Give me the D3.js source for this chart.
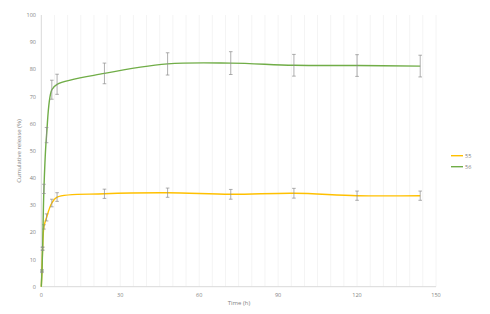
<!DOCTYPE html>
<html>
<head>
<meta charset="utf-8">
<script src="https://cdn.jsdelivr.net/npm/d3@7"></script>
<style>
  body { margin: 0; background: #fff; }
  text { font-family: "Open Sans", "Noto Sans", sans-serif; fill: #7f7f7f; }
</style>
</head>
<body>
<svg id="chart" width="490" height="314"></svg>
<script>
// sampling times (h)
var times = [0, 0.25, 0.5, 1, 2, 4, 6, 24, 48, 72, 96, 120, 144];
var seriesNames = ["55", "56"];
var release55 = [0, 6, 14, 22, 25.5, 30.8, 33, 34.2, 34.6, 34.0, 34.4, 33.5, 33.5];
var err55 = [0, 0.3, 0.5, 0.8, 1.3, 1.4, 1.6, 1.7, 1.7, 1.8, 1.8, 1.7, 1.7];
var release56 = [0, 5.5, 14, 36, 55.8, 72.5, 74.5, 78.5, 82, 82.3, 81.5, 81.4, 81.2];
var err56 = [0, 0.3, 0.6, 1.7, 2.8, 3.5, 3.7, 3.8, 4.1, 4.2, 4, 4, 4];
var xTicks = [0, 30, 60, 90, 120, 150];
var yTicks = [0, 10, 20, 30, 40, 50, 60, 70, 80, 90, 100];
var colors = ["#ffc000", "#70ad47"];

var svg = d3.select("#chart");
var x = d3.scaleLinear().domain([0, 150]).range([41.3, 436]);
var y = d3.scaleLinear().domain([0, 100]).range([286.7, 15]);

// faint vertical gridlines
svg.append("g").selectAll("line")
    .data(d3.range(5, 151, 5))
    .enter().append("line")
    .attr("x1", function (d) { return x(d); })
    .attr("x2", function (d) { return x(d); })
    .attr("y1", y(100)).attr("y2", y(0))
    .attr("stroke", "#f4f4f4").attr("stroke-width", 1);

// axis lines
svg.append("line").attr("x1", x(0)).attr("x2", x(0)).attr("y1", y(100)).attr("y2", y(0))
    .attr("stroke", "#d9d9d9");
svg.append("line").attr("x1", x(0)).attr("x2", x(150)).attr("y1", y(0)).attr("y2", y(0))
    .attr("stroke", "#d9d9d9");

// tick labels
svg.append("g").selectAll("text")
    .data(yTicks).enter().append("text")
    .attr("x", 36).attr("y", function (d) { return y(d) + 2; })
    .attr("text-anchor", "end").attr("font-size", 5.5)
    .text(function (d) { return d; });

svg.append("g").selectAll("text")
    .data(xTicks).enter().append("text")
    .attr("x", function (d) { return x(d); }).attr("y", 297)
    .attr("text-anchor", "middle").attr("font-size", 5.5)
    .text(function (d) { return d; });

// axis titles
svg.append("text").attr("transform", "translate(21,151) rotate(-90)")
    .attr("text-anchor", "middle").attr("font-size", 6)
    .text("Cumulative release (%)");
svg.append("text").attr("x", 239).attr("y", 305)
    .attr("text-anchor", "middle").attr("font-size", 6)
    .text("Time (h)");

var series = [
    {name: seriesNames[0], values: release55, errs: err55, color: colors[0]},
    {name: seriesNames[1], values: release56, errs: err56, color: colors[1]}
];

var line = d3.line()
    .x(function (d) { return x(d.t); })
    .y(function (d) { return y(d.v); })
    .curve(d3.curveCatmullRom.alpha(0.5));

series.forEach(function (s) {
    var pts = times.map(function (t, i) { return {t: t, v: s.values[i], e: s.errs[i]}; });

    svg.append("path").datum(pts)
        .attr("d", line)
        .attr("fill", "none")
        .attr("stroke", s.color)
        .attr("stroke-width", 1.4);

    // error bars
    var g = svg.append("g").attr("stroke", "#8c8c8c").attr("stroke-width", 0.7);
    pts.filter(function (d) { return d.e > 0; }).forEach(function (d) {
        var cx = x(d.t), top = y(d.v + d.e), bot = y(d.v - d.e);
        g.append("line").attr("x1", cx).attr("x2", cx).attr("y1", top).attr("y2", bot);
        g.append("line").attr("x1", cx - 1.8).attr("x2", cx + 1.8).attr("y1", top).attr("y2", top);
        g.append("line").attr("x1", cx - 1.8).attr("x2", cx + 1.8).attr("y1", bot).attr("y2", bot);
    });
});

// legend
var legend = svg.append("g").selectAll("g")
    .data(series).enter().append("g")
    .attr("transform", function (d, i) { return "translate(451," + (155.7 + i * 11) + ")"; });
legend.append("line").attr("x1", 0).attr("x2", 12).attr("y1", 0).attr("y2", 0)
    .attr("stroke", function (d) { return d.color; }).attr("stroke-width", 1.4);
legend.append("text").attr("x", 14).attr("y", 2).attr("font-size", 5.5)
    .text(function (d) { return d.name; });
</script>
</body>
</html>
